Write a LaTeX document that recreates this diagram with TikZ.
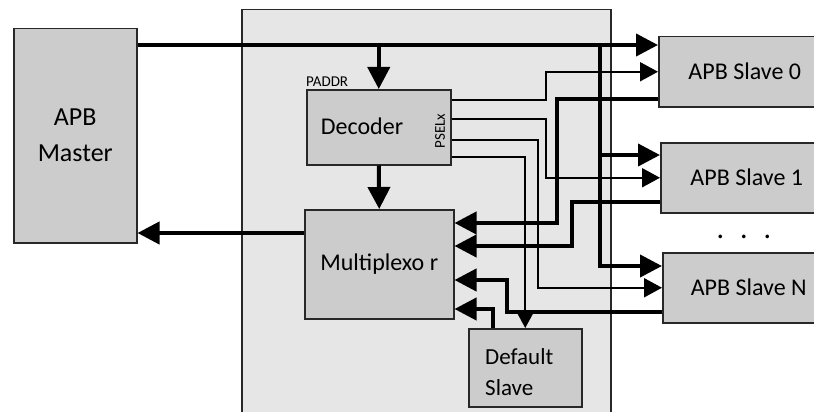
\documentclass[tikz,border=0pt]{standalone}
\usepackage{fontspec}
\setmainfont{Carlito}
\usetikzlibrary{arrows.meta,calc}
\definecolor{boxfill}{RGB}{204,204,204}
\definecolor{bigfill}{RGB}{230,230,230}
\definecolor{edge}{RGB}{40,40,40}
\begin{document}
\begin{tikzpicture}[x=1pt,y=-1pt,
  blk/.style={draw=edge, line width=1.5pt, fill=boxfill, rectangle, inner sep=0pt, anchor=north west},
  lbl/.style={font=\fontsize{24}{37}\selectfont, inner sep=0pt},
  small/.style={font=\fontsize{15}{15}\selectfont, inner sep=0pt},
  bus/.style={line width=4pt, -{Triangle[length=22pt,width=22pt]}},
  sig/.style={line width=2pt, -{Triangle[length=18pt,width=19pt]}}]
\useasboundingbox (0,0) rectangle (814,412);
\clip (0,0) rectangle (814,412);
% boxes
\node[draw=edge, line width=1.5pt, fill=bigfill, rectangle, inner sep=0pt, anchor=north west,
      minimum width=369pt, minimum height=420pt] (hub) at (241,9) {};
\node[blk, minimum width=123pt, minimum height=214pt, align=center, font=\fontsize{26}{36}\selectfont] (master) at (13,28) {APB\\Master};
\node[blk, minimum width=144pt, minimum height=75pt] (dec) at (306,89) {};
\node[lbl] (dectext) at (362,126) {Decoder};
\node[small, anchor=south west] (paddr) at ([yshift=2pt]dec.north west) {PADDR};
\node[small, rotate=90] (psel) at (440,131) {PSELx};
\node[blk, minimum width=149pt, minimum height=109pt, font=\fontsize{24}{37}\selectfont] (mux) at (304,209) {Multiplexo r};
\node[blk, minimum width=113pt, minimum height=78pt] (def) at (468,328) {};
\node[inner sep=0pt, anchor=west, align=left, font=\fontsize{23}{31}\selectfont] (deftext) at (485,372) {Default\\Slave};
\node[blk, minimum width=172pt, minimum height=70pt, font=\fontsize{24}{37}\selectfont] (s0) at (658,36) {APB Slave 0};
\node[blk, minimum width=172pt, minimum height=70pt, font=\fontsize{24}{37}\selectfont] (s1) at (660,142) {APB Slave 1};
\node[blk, minimum width=172pt, minimum height=70pt, font=\fontsize{24}{37}\selectfont] (sN) at (662,252) {APB Slave N};
\node[inner sep=0pt, font=\fontsize{30}{30}\selectfont] (dots) at (744,237) {.\hspace{16pt}.\hspace{16pt}.};
% address bus
\coordinate (busL) at ([yshift=-17pt]master.north east);
\draw[bus] (busL) -- ([yshift=-9pt]s0.north west);
\draw[bus] (dec.north |- busL) -- (dec.north);
\coordinate (vb) at (600,45);
\coordinate (s1a) at ([yshift=-13pt]s1.north west);
\coordinate (sNa) at ([yshift=-14pt]sN.north west);
\draw[bus] (vb) |- (sNa);
\draw[bus] (vb |- s1a) -- (s1a);
% decoder to mux, mux to master
\draw[bus] (dec.south) -- (mux.north);
\coordinate (mxa) at ([yshift=-24pt]mux.north west);
\draw[bus] (mxa) -- (master.east |- mxa);
% select lines
\draw[sig] ([yshift=-11pt]dec.north east) -- ++(94,0) |- (s0.west);
\draw[sig] ([yshift=-30pt]dec.north east) -- ++(94,0) |- (s1.west);
\draw[sig] ([yshift=-51pt]dec.north east) -- ++(86,0) |- (sN.west);
\draw[sig] ([yshift=-68pt]dec.north east) -| (def.north);
% read data returns
\draw[bus] ([yshift=-63pt]s0.north west) -- ++(-101,0) |- ([yshift=-14pt]mux.north east);
\draw[bus] ([yshift=-60pt]s1.north west) -- ++(-88,0) |- ([yshift=-37pt]mux.north east);
\draw[bus] ([yshift=-60pt]sN.north west) -- ++(-155,0) |- ([yshift=-71pt]mux.north east);
\draw[bus] ([xshift=25pt]def.north west) |- ([yshift=-100pt]mux.north east);
\end{tikzpicture}
\end{document}
